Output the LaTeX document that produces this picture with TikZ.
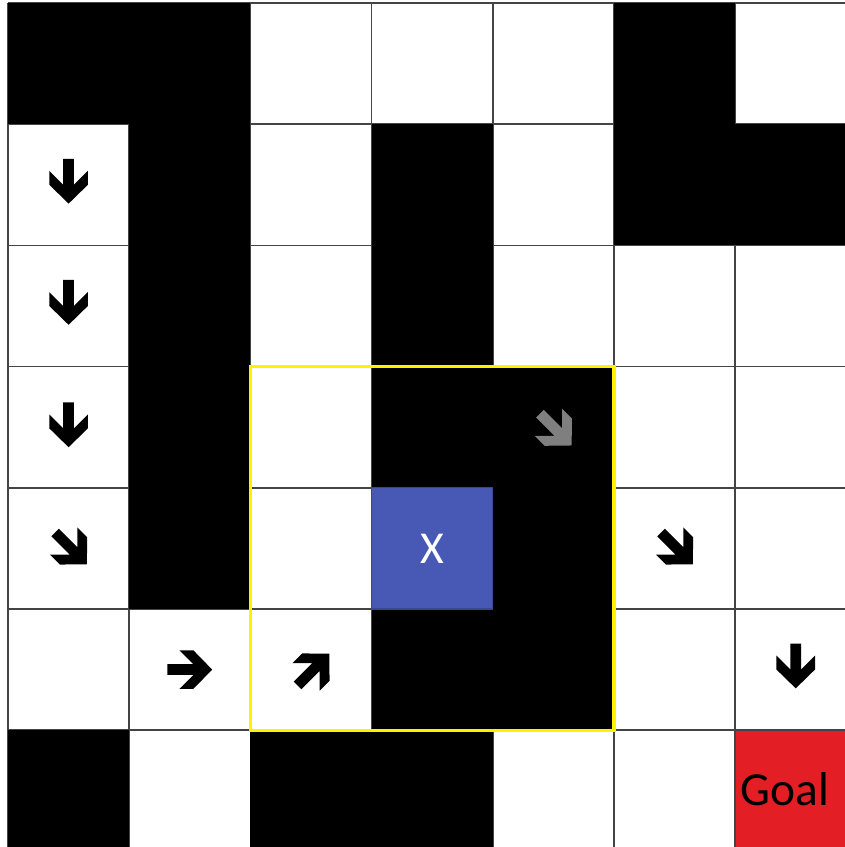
\documentclass[tikz,border=0pt]{standalone}
\usepackage{fontspec}
\setmainfont{Carlito}
\usetikzlibrary{positioning}
\definecolor{mazeblack}{HTML}{000000}
\definecolor{agentblue}{HTML}{4759B4}
\definecolor{goalred}{HTML}{E31E24}
\definecolor{windowyellow}{HTML}{FFF200}
\definecolor{gridgray}{HTML}{444444}
\definecolor{hintgray}{HTML}{7F7F7F}
\newcommand{\blockarrow}[4]{% x, y, angle, colour
  \fill[#4, shift={(#1,#2)}, rotate=#3, scale=0.37] (0.5,0) -- (0.08,0.43) -- (-0.23,0.43) --
    (0.08,0.12) -- (-0.5,0.12) -- (-0.5,-0.12) -- (0.08,-0.12) -- (-0.23,-0.43) -- (0.08,-0.43) -- cycle;%
}
\tikzset{
  wall/.style={fill=mazeblack},
  gridline/.style={draw=gridgray, line width=0.9pt},
  window/.style={draw=windowyellow, line width=1.8pt},
  agentcell/.style={rectangle, fill=agentblue, draw=agentblue!80!black, line width=0.6pt, minimum size=2.424cm, inner sep=0pt, text=white, font=\fontsize{26}{28}\selectfont},
  goaltext/.style={inner sep=0pt, text=black, font=\fontsize{27}{30}\selectfont},
}
\begin{document}
\begin{tikzpicture}[x=2.424cm, y=-2.424cm]
    \useasboundingbox (-0.066,-0.025) rectangle (6.906,6.964);
    \clip (-0.066,-0.025) rectangle (6.906,6.964);
    \fill[white] (-0.066,-0.025) rectangle (6.906,6.964);
    % goal cell
    \fill[goalred] (6,6) rectangle (7,7);
    % grid
    \foreach \i in {0,...,7} {
      \draw[gridline] (\i,0) -- (\i,7);
      \draw[gridline] (0,\i) -- (7,\i);
    }
    % walls (column, row)
    \foreach \c/\r in {0/0,1/0,5/0, 1/1,3/1,5/1,6/1, 1/2,3/2, 1/3,3/3,4/3, 1/4,4/4, 3/5,4/5, 0/6,2/6,3/6}
      \fill[wall] (\c,\r) rectangle ++(1,1);
    \node[agentcell] (agent) at (3.5,4.5) {X};
    \node[goaltext] (goal) at (6.41,6.49) {Goal};
    % policy arrows
    \blockarrow{0.5}{1.47}{-90}{mazeblack}
    \blockarrow{0.5}{2.47}{-90}{mazeblack}
    \blockarrow{0.5}{3.48}{-90}{mazeblack}
    \blockarrow{0.52}{4.5}{-45}{mazeblack}
    \blockarrow{1.5}{5.5}{0}{mazeblack}
    \blockarrow{2.52}{5.5}{45}{mazeblack}
    \blockarrow{4.52}{3.52}{-45}{hintgray}
    \blockarrow{5.52}{4.5}{-45}{mazeblack}
    \blockarrow{6.5}{5.47}{-90}{mazeblack}
    % local window
    \draw[window] (2,3) rectangle (5,6);
\end{tikzpicture}
\end{document}
